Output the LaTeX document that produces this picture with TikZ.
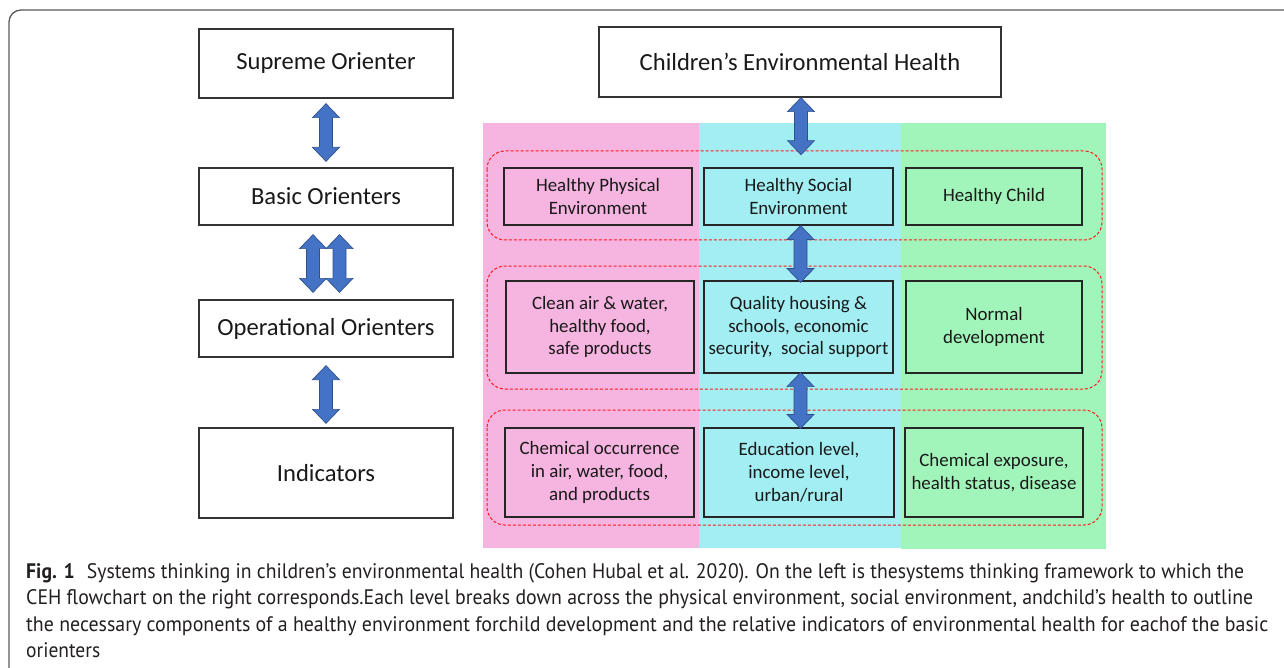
\documentclass[tikz,border=0pt]{standalone}
\usepackage{fontspec}
\setmainfont{Carlito}
\newfontfamily\capfont{PT Sans}
\usetikzlibrary{calc}
\definecolor{pinkbg}{HTML}{F6B4E0}
\definecolor{cyanbg}{HTML}{A2EEF2}
\definecolor{greenbg}{HTML}{A2F5BA}
\definecolor{arrowfill}{HTML}{4472C4}
\definecolor{arrowline}{HTML}{2F528F}
\definecolor{capcol}{HTML}{231F20}
\definecolor{dashred}{HTML}{FF1A1A}
\tikzset{
 leftbox/.style={draw=black!80, line width=1.3pt, minimum width=254pt, inner sep=0pt, font=\fontsize{24.6}{28}\selectfont, text=black!90},
 innerbox/.style={draw=black!85, line width=1.2pt, inner sep=0pt, align=center, font=\fontsize{18.9}{22.8}\selectfont, text=black!90},
 rowgroup/.style={draw=dashred, line width=1pt, dash pattern=on 3pt off 2pt, rounded corners=18pt},
 blockarrow/.style={fill=arrowfill, draw=arrowline, line width=0.7pt},
 frame/.style={draw=black!65, line width=1.3pt, rounded corners=12pt},
 capline/.style={anchor=base west, inner sep=0pt, font=\capfont\fontsize{21}{26}\selectfont, text=capcol},
}
\newcommand{\vdarrow}[2]{%
 \path[blockarrow] let \p1=#1, \p2=#2 in
 (\x1,\y1) -- (\x1+13.5pt,\y1-14pt) -- (\x1+6.5pt,\y1-14pt) -- (\x1+6.5pt,\y2+14pt) -- (\x1+13.5pt,\y2+14pt) -- (\x1,\y2) -- (\x1-13.5pt,\y2+14pt) -- (\x1-6.5pt,\y2+14pt) -- (\x1-6.5pt,\y1-14pt) -- (\x1-13.5pt,\y1-14pt) -- cycle;}
\begin{document}
\begin{tikzpicture}[x=1pt,y=-1pt]
\useasboundingbox (0,0) rectangle (1284,668);
% outer frame
\draw[frame] (9,675) -- (9,10) -- (1295,10);
% left column
\node[leftbox, minimum height=69pt] (so) at (326,63.5) {Supreme Orienter};
\node[leftbox, minimum height=57pt] (bo) at (326,196.5) {Basic Orienters};
\node[leftbox, minimum height=57pt] (oo) at (326,328.5) {Operational Orienters};
\node[leftbox, minimum height=90pt] (io) at (326,473) {Indicators};
\vdarrow{($(so.south)+(0,5)$)}{($(bo.north)+(0,-6)$)}
\vdarrow{($(bo.south)+(-13,9)$)}{($(oo.north)+(-13,-7)$)}
\vdarrow{($(bo.south)+(13.5,9)$)}{($(oo.north)+(13.5,-7)$)}
\vdarrow{($(oo.south)+(0,8)$)}{($(io.north)+(0,-4)$)}
% right: background columns
\fill[pinkbg] (483,123) rectangle (699,548);
\fill[cyanbg] (699,123) rectangle (901,548);
\fill[greenbg] (901,123) rectangle (1106,549);
% top box
\node[leftbox, minimum width=402pt, minimum height=70pt] (ceh) at (800,62) {Children’s Environmental Health};
% dashed groups
\draw[rowgroup] (487,151) rectangle (1102,240);
\draw[rowgroup] (487,266) rectangle (1102,389);
\draw[rowgroup] (487,410) rectangle (1102,525);
% row 1
\node[innerbox, minimum width=188pt, minimum height=57pt] (p1) at (598,196.5) {Healthy Physical\\Environment};
\node[innerbox, minimum width=189pt, minimum height=57pt] (c1) at (798.5,196.5) {Healthy Social\\Environment};
\node[innerbox, minimum width=176pt, minimum height=57pt] (g1) at (994,196.5) {Healthy Child};
% row 2
\node[innerbox, minimum width=188pt, minimum height=92pt] (p2) at (600,327) {Clean air \& water,\\healthy food,\\safe products};
\node[innerbox, minimum width=189pt, minimum height=92pt] (c2) at (798.5,327) {Quality housing \&\\schools, economic\\security,\ \ social support};
\node[innerbox, minimum width=176pt, minimum height=92pt] (g2) at (994,327) {Normal\\development};
% row 3
\node[innerbox, minimum width=189pt, minimum height=89pt] (p3) at (599.5,472.5) {Chemical occurrence\\in air, water, food,\\and products};
\node[innerbox, minimum width=190pt, minimum height=89pt] (c3) at (799,472.5) {Education level,\\income level,\\urban/rural};
\node[innerbox, minimum width=178pt, minimum height=89pt] (g3) at (994,472.5) {Chemical exposure,\\health status, disease};
% right arrows
\vdarrow{($(ceh.south)+(1,0)$)}{($(ceh.south)+(1,57)$)}
\vdarrow{($(c1.south)+(2,0)$)}{($(c2.north)+(2,2)$)}
\vdarrow{($(c2.south)+(2,-1)$)}{($(c3.north)+(2,1)$)}
% caption
\node[capline] (cap1) at (26,578) {\resizebox{1218pt}{\height}{\textbf{Fig. 1}\hspace{13pt}Systems thinking in children’s environmental health (Cohen Hubal et al. 2020). On the left is thesystems thinking framework to which the}};
\node[capline] (cap2) at (26,604.5) {\resizebox{1227pt}{\height}{CEH flowchart on the right corresponds.Each level breaks down across the physical environment, social environment, andchild’s health to outline}};
\node[capline] (cap3) at (26,631) {\resizebox{1242pt}{\height}{the necessary components of a healthy environment forchild development and the relative indicators of environmental health for eachof the basic}};
\node[capline] (cap4) at (26,657) {\resizebox{74pt}{\height}{orienters}};
\end{tikzpicture}
\end{document}
